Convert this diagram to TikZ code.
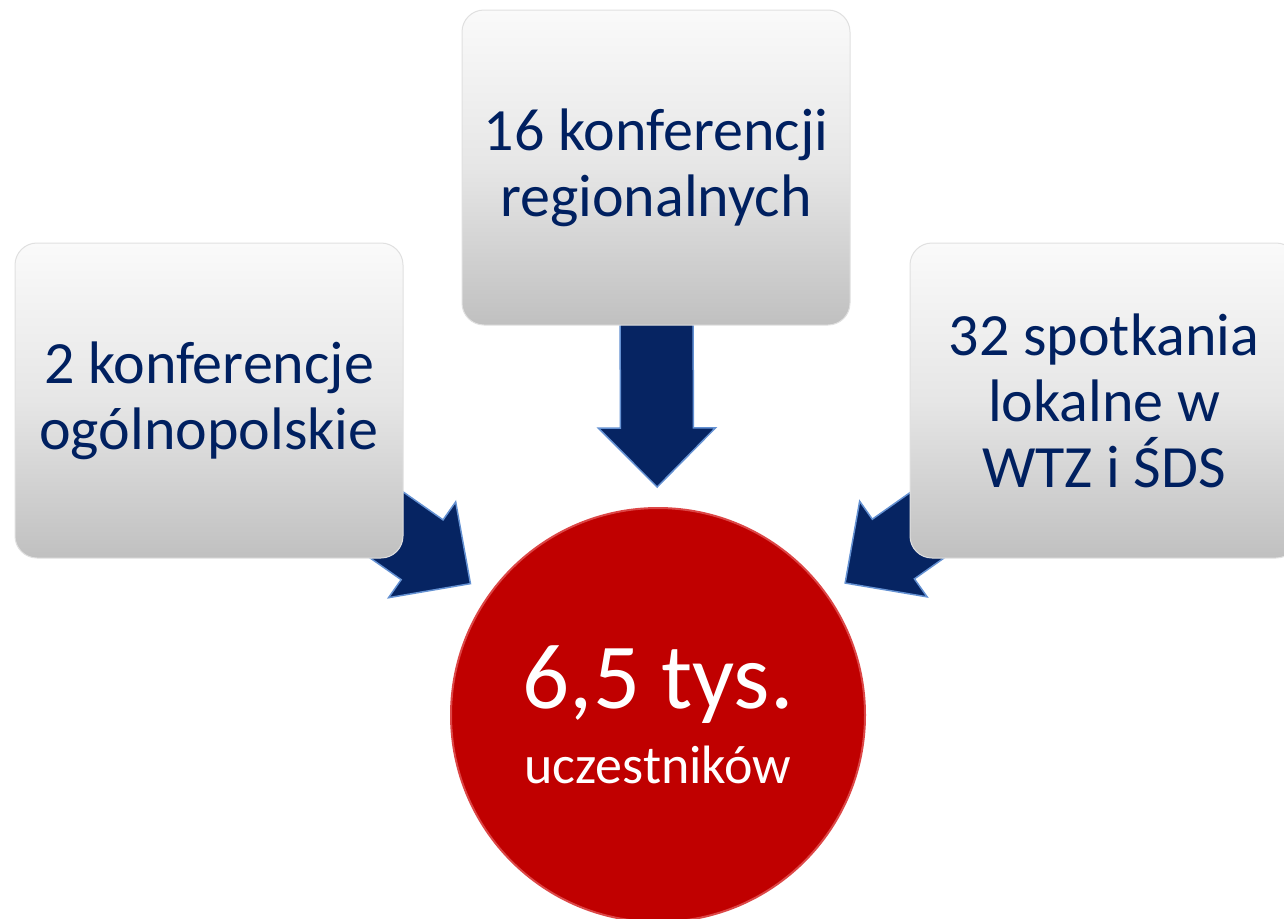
\documentclass[tikz,border=0pt]{standalone}
\usepackage{fontspec}
\setmainfont{Carlito}
\usetikzlibrary{calc}
\definecolor{navytext}{RGB}{0,32,96}
\definecolor{arrowfill}{RGB}{6,36,98}
\definecolor{bevelblue}{RGB}{100,145,210}
\definecolor{dred}{RGB}{192,0,0}
\definecolor{rimred}{RGB}{220,70,70}
\definecolor{boxtop}{RGB}{250,250,250}
\definecolor{boxmid}{RGB}{230,230,230}
\definecolor{boxbot}{RGB}{192,192,192}
\pgfdeclarelayer{bg}
\pgfdeclarelayer{paper}
\pgfsetlayers{paper,bg,main}
\tikzset{
  infobox/.style={rounded corners=22pt, top color=boxtop, bottom color=boxbot, middle color=boxmid,
    draw=white!88!black, line width=1pt, minimum width=388pt, minimum height=315pt,
    inner sep=0pt, align=center, text=navytext, font=\fontsize{60}{66}\selectfont},
  bigcircle/.style={circle, fill=dred, draw=rimred, line width=2pt, minimum size=414pt,
    inner sep=0pt, align=center, text=white},
  blockarrowstyle/.style={fill=arrowfill, draw=bevelblue, line width=1.5pt, line join=miter}
}
\newcommand\blockarrow[2]{%
  \coordinate (#2-b) at ($(#2)!59pt!(#1)$);
  \filldraw[blockarrowstyle] ($(#1)!36.5pt!90:(#2)$) -- ($(#2-b)!36.5pt!90:(#2)$)
    -- ($(#2-b)!58.5pt!90:(#2)$) -- (#2) -- ($(#2-b)!58.5pt!-90:(#2)$)
    -- ($(#2-b)!36.5pt!-90:(#2)$) -- ($(#1)!36.5pt!-90:(#2)$) -- cycle;
}
\begin{document}
\begin{tikzpicture}[x=1pt,y=-1pt]
\useasboundingbox (0,0) rectangle (1284,918);
\clip (0,0) rectangle (1284,918);
\begin{pgfonlayer}{paper}
  \fill[white] (0,0) rectangle (1284,918);
\end{pgfonlayer}
\node[infobox] (bL) at (209,400.5) {2 konferencje\\ogólnopolskie};
\node[infobox] (bM) at (656,167.5) {16 konferencji\\regionalnych};
\node[infobox] (bR) at (1104,400.5) {32 spotkania\\lokalne w\\WTZ i ŚDS};
\node[bigcircle] (circ) at (658,715)
  {\fontsize{93}{93}\selectfont 6,5 tys.\\[21pt]\fontsize{54}{60}\selectfont uczestników};
\coordinate (tipL) at ($(circ.center)!229pt!(bL.center)$);
\coordinate (tipM) at ($(circ.center)!228pt!(bM.center)$);
\coordinate (tipR) at ($(circ.center)!229pt!(bR.center)$);
\begin{pgfonlayer}{bg}
  \blockarrow{bL.center}{tipL}
  \blockarrow{bM.center}{tipM}
  \blockarrow{bR.center}{tipR}
\end{pgfonlayer}
\end{tikzpicture}
\end{document}
